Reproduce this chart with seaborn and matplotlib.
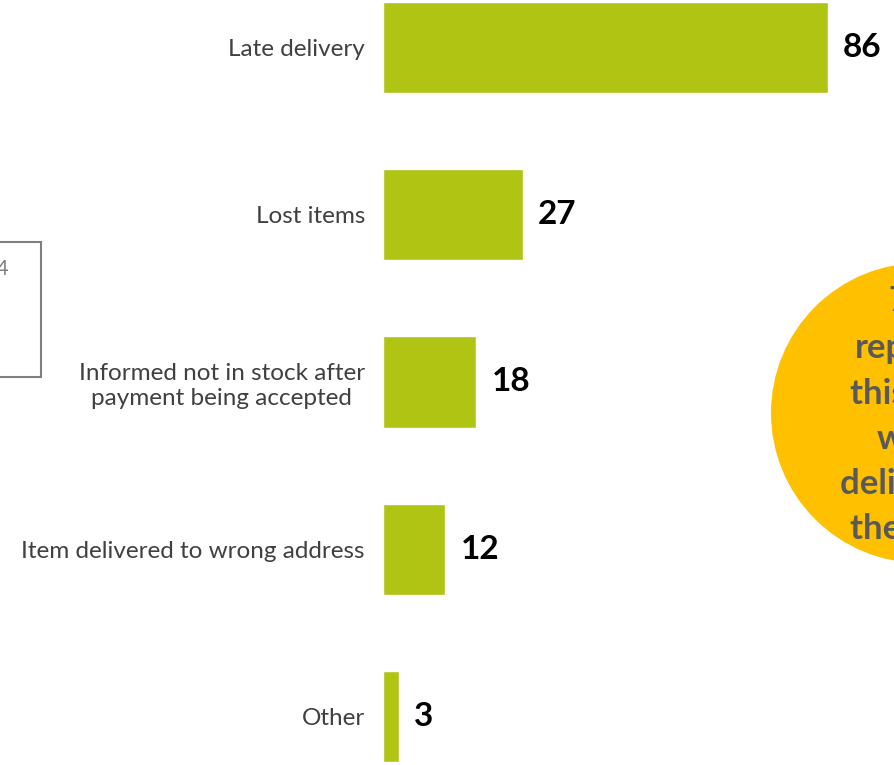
import matplotlib
matplotlib.use("Agg")
import matplotlib.pyplot as plt
from matplotlib.patches import Circle, Rectangle
import seaborn as sns
import pandas as pd

# Complaint categories and counts
categories = [
    "Late delivery",
    "Lost items",
    "Informed not in stock after\npayment being accepted",
    "Item delivered to wrong address",
    "Other",
]
counts = [86, 27, 18, 12, 3]

# Side panel texts
base_note = "Base: 184"
callout_lines = ["7 in 10", "reporting", "this said it", "was a", "delivery by", "the courier"]

BAR_GREEN = "#B0C413"
LABEL_GREY = "#404040"
CALLOUT_YELLOW = "#FFC000"
CALLOUT_TEXT = "#595959"

sns.set_theme(style="white")
plt.rcParams["font.family"] = ["Lato", "DejaVu Sans"]

W, H = 895, 765
fig = plt.figure(figsize=(W / 100, H / 100), dpi=100)
fig.patch.set_facecolor("white")

# Background layer in pixel units for the note box and the callout bubble
bg = fig.add_axes([0, 0, 1, 1], zorder=0)
bg.set_xlim(0, W)
bg.set_ylim(H, 0)
bg.axis("off")

bg.add_patch(Rectangle((-60, 242), 101.5, 135, fill=False,
                       edgecolor="#7F7F7F", linewidth=1.5))
bg.text(8.5, 275, base_note, ha="right", va="baseline",
        fontsize=15, color="#808080")

bg.add_patch(Circle((921, 413), 150, facecolor=CALLOUT_YELLOW, edgecolor="none"))
line_x = [889, 855, 850, 877, 840, 850]
line_y = [311, 358, 404, 449, 494, 539]
for txt, lx, ly in zip(callout_lines, line_x, line_y):
    bg.text(lx, ly, txt, ha="left", va="baseline", fontsize=25,
            fontweight="bold", color=CALLOUT_TEXT)

# Horizontal bar chart
df = pd.DataFrame({"category": categories, "count": counts})
ax = fig.add_axes([383 / W, 0, (W - 383) / W, 1], zorder=1)
ax.patch.set_alpha(0)
sns.barplot(data=df, x="count", y="category", orient="h", color=BAR_GREEN,
            width=0.545, saturation=1, ax=ax)

ax.set_xlim(0, (W - 383) / 5.174)
ax.set_ylim(4.293, -0.287)
ax.set_xlabel("")
ax.set_ylabel("")
ax.set_xticks([])
sns.despine(ax=ax, left=True, bottom=True)
ax.tick_params(axis="y", length=0, pad=13, labelsize=17.5, labelcolor=LABEL_GREY)
for lbl in ax.get_yticklabels():
    lbl.set_multialignment("center")
    lbl.set_linespacing(1.25)

for container in ax.containers:
    ax.bar_label(container, padding=11, fontsize=24, fontweight="bold",
                 color="black")

fig.savefig("out.png", dpi=100)
